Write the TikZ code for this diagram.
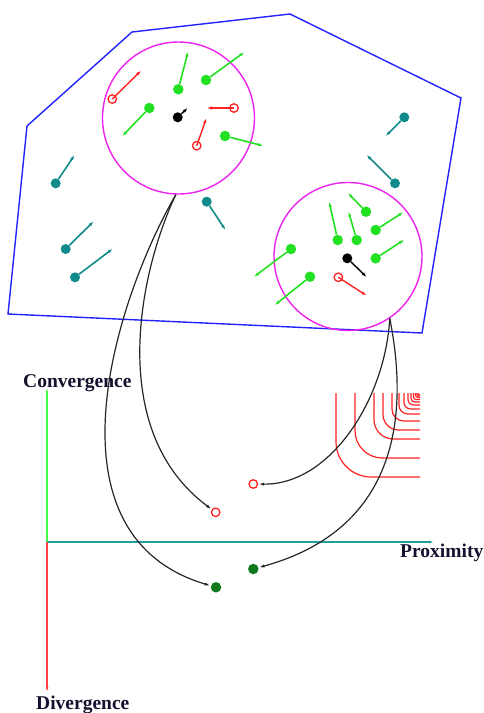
\documentclass[tikz,border=0pt]{standalone}
\usepackage{fontspec}
\setmainfont{Liberation Serif}
\usetikzlibrary{arrows.meta}
\definecolor{polyblue}{HTML}{2222FF}
\definecolor{magc}{HTML}{EE22EE}
\definecolor{gr}{HTML}{22E022}
\definecolor{tl}{HTML}{108A8A}
\definecolor{rd}{HTML}{FF2222}
\definecolor{dg}{HTML}{0E7A1C}
\definecolor{axg}{HTML}{44FF44}
\definecolor{axt}{HTML}{22A0A0}
\definecolor{axr}{HTML}{FF4444}
\definecolor{txt}{HTML}{12122E}
\tikzset{
  tip/.style={-{Latex[length=6pt,width=3.2pt]}},
  gdot/.style={circle,fill=gr,inner sep=0pt,minimum size=10.5pt},
  tdot/.style={circle,fill=tl,inner sep=0pt,minimum size=10pt},
  kdot/.style={circle,fill=black,inner sep=0pt,minimum size=10pt},
  rdot/.style={circle,draw=rd,line width=1.3pt,inner sep=0pt,minimum size=8.5pt},
  dgdot/.style={circle,fill=dg,inner sep=0pt,minimum size=10.5pt},
  garr/.style={tip,draw=gr,line width=1.6pt},
  tarr/.style={tip,draw=tl,line width=1.6pt},
  rarr/.style={tip,draw=rd,line width=1.4pt},
  karr/.style={tip,draw=black,line width=1.4pt},
  bigcircle/.style={circle,draw=magc,line width=1.4pt,inner sep=0pt},
  curvearr/.style={tip,draw=black!85,line width=1.2pt},
  contour/.style={draw=rd,line width=1.2pt},
  lbl/.style={text=txt,font=\bfseries\fontsize{19.5}{22}\selectfont,inner sep=0pt}
}
\newcommand\particle[5]{%
  \node[#1] (#2) at (#3) {};
  \coordinate (#2t) at (#4);
  \draw[#5] (#2) -- (#2t);}
\newcommand\ring[3]{%
  \node[rdot] (#1) at (#2) {};
  \coordinate (#1t) at (#3);
  \draw[rarr] (#1.center) -- (#1t);}
\begin{document}
\begin{tikzpicture}[x=1pt,y=-1pt]
\useasboundingbox (0,0) rectangle (484,713);
% polygon
\draw[polyblue,line width=1.4pt] (132,32) -- (290,14) -- (461,98) -- (422,333) -- (8,314) -- (27,126) -- cycle;
% circles
\node[bigcircle,minimum size=152pt] (C1) at (178.5,118) {};
\node[bigcircle,minimum size=148pt] (C2) at (348,256.5) {};
% circle 1 particles
\particle{kdot}{k1}{177.7,117.3}{188.3,107.3}{karr}
\particle{gdot}{g1}{178.3,89.3}{188.3,50.7}{garr}
\particle{gdot}{g2}{206,80}{245,51.7}{garr}
\particle{gdot}{g3}{149.3,108}{121.7,136.7}{garr}
\particle{gdot}{g4}{225,136}{264,146}{garr}
\ring{r1}{112.3,99}{141.7,70}
\ring{r2}{234,108}{206,108}
\ring{r3}{196.7,145.7}{206.7,117.3}
% teal particles
\particle{tdot}{t1}{55.7,183.3}{75,154.3}{tarr}
\particle{tdot}{t2}{65.7,249}{94.3,220.7}{tarr}
\particle{tdot}{t3}{75,277.3}{113.3,248.3}{tarr}
\particle{tdot}{t4}{206.7,201.7}{226,230.7}{tarr}
\particle{tdot}{t5}{404.3,117.3}{385,136.7}{tarr}
\particle{tdot}{t6}{395,183.3}{366,154.3}{tarr}
% circle 2 particles
\particle{kdot}{k2}{347.3,258.3}{367.3,277.7}{karr}
\ring{r4}{338.3,277.3}{367.3,296}
\particle{gdot}{g5}{366,211.7}{347.3,192.3}{garr}
\particle{gdot}{g6}{337.7,240}{329,201}{garr}
\particle{gdot}{g7}{356.7,240}{348.3,210.7}{garr}
\particle{gdot}{g8}{375.7,230}{404,211.7}{garr}
\particle{gdot}{g9}{375.7,258.3}{405,239.3}{garr}
\particle{gdot}{g10}{291,249}{253.3,277.3}{garr}
\particle{gdot}{g11}{310,276.7}{274,305.7}{garr}
% contours
\foreach \d in {84,65,46,37,28,21,16,12,9,6.5,4.5,3,1.8}{
  \pgfmathsetmacro\rr{0.42*\d}
  \draw[contour,rounded corners=\rr pt] (420-\d,393) |- (420,393+\d);
}
% axes
\coordinate (O) at (47,542);
\coordinate (yt) at (47,388);
\coordinate (xt) at (434,542);
\coordinate (yb) at (47,692);
\draw[axg,line width=1.2pt,-{Latex[length=5pt,width=3pt]}] (O) -- (yt);
\draw[axt,line width=1.2pt,-{Latex[length=5pt,width=3pt]}] (O) -- (xt);
\draw[axr,line width=1.2pt,-{Latex[length=5pt,width=3pt]}] (O) -- (yb);
\node[lbl,anchor=base west] (lc) at (23,387) {Convergence};
\node[lbl,anchor=base west] (lp) at (400,557) {Proximity};
\node[lbl,anchor=base west] (ld) at (36,709) {Divergence};
% projected points
\node[rdot] (p1) at (215.7,512.3) {};
\node[rdot] (p2) at (253.3,484) {};
\node[dgdot] (p3) at (216,587.3) {};
\node[dgdot] (p4) at (253.3,569) {};
% curves
\draw[curvearr] (C1.-92) .. controls (140,270) and (105,430) .. (p1);
\draw[curvearr] (C1.-92) .. controls (115,300) and (40,535) .. (p3);
\draw[curvearr] (C2.-56) .. controls (385,400) and (330,485) .. (p2);
\draw[curvearr] (C2.-56) .. controls (410,420) and (395,530) .. (p4);
\end{tikzpicture}
\end{document}
